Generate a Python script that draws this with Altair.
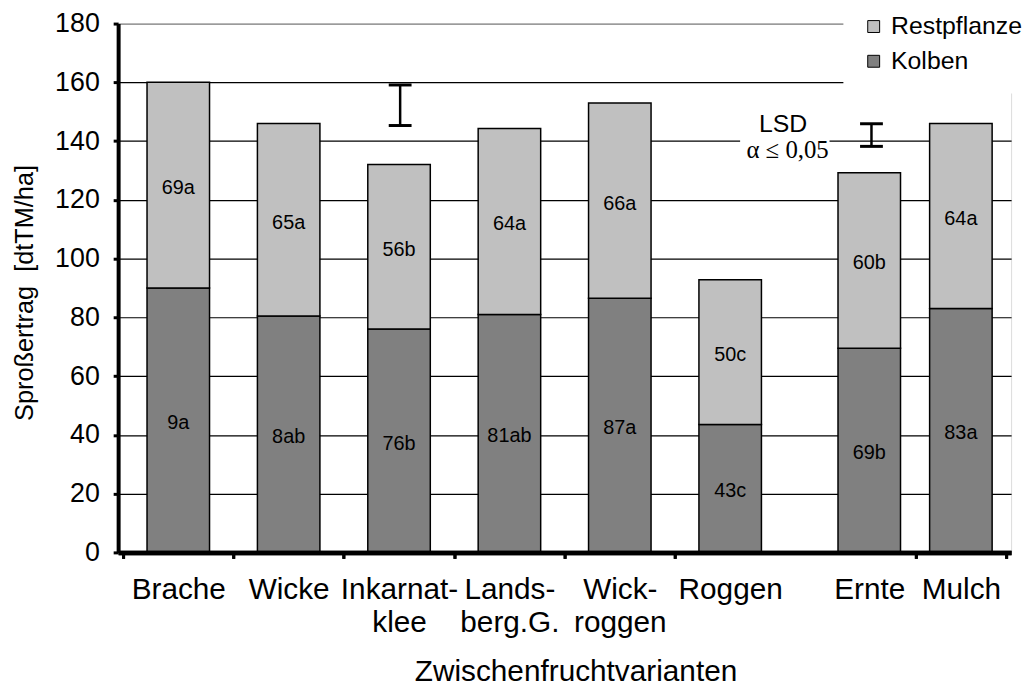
import json
import altair as alt
import pandas as pd

# ---------------- data ----------------
categories = ["Brache", "Wicke", "Inkarnat-\nklee", "Lands-\nberg.G.", "Wick-\nroggen",
              "Roggen", "Ernte", "Mulch"]
slot = [0.5, 1.5, 2.5, 3.5, 4.5, 5.5, 6.76, 7.59]          # category position on the x axis
kolben = [90.0, 80.5, 76.0, 81.0, 86.5, 43.5, 69.5, 83.0]
restpflanze = [70.0, 65.5, 56.0, 63.3, 66.5, 49.3, 59.7, 63.0]
kolben_labels = ["9a", "8ab", "76b", "81ab", "87a", "43c", "69b", "83a"]
rest_labels = ["69a", "65a", "56b", "64a", "66a", "50c", "60b", "64a"]
series = ["Restpflanze", "Kolben"]
series_colors = ["#C0C0C0", "#808080"]

axis_breaks = [0, 1, 2, 3, 4, 5, 7.18, 8]
y_ticks = [0, 20, 40, 60, 80, 100, 120, 140, 160, 180]

lsd_x = [2.51, 6.78]
lsd_low = [145.3, 138.2]
lsd_high = [159.1, 145.9]
lsd_text = ["LSD", "α ≤ 0,05"]
lsd_text_x = [5.98, 6.02]
lsd_text_y = [143.0, 134.3]

# white patch behind the LSD text (breaks the 140 gridline)
patch_x = [5.59]
patch_x2 = [6.40]
patch_y = [139.3]
patch_y2 = [140.7]

# ---------------- tables ----------------
rows = []
for i, c in enumerate(categories):
    rows.append({"cat": c, "slot": slot[i], "series": "Kolben", "value": kolben[i],
                 "ord": 0, "mid": kolben[i] / 2, "label": kolben_labels[i]})
    rows.append({"cat": c, "slot": slot[i], "series": "Restpflanze", "value": restpflanze[i],
                 "ord": 1, "mid": kolben[i] + restpflanze[i] / 2, "label": rest_labels[i]})
df = pd.DataFrame(rows)
df_lsd = pd.DataFrame({"x": lsd_x, "lo": lsd_low, "hi": lsd_high})
df_lsd_txt = pd.DataFrame({"x": lsd_text_x, "y": lsd_text_y, "t": lsd_text})
df_patch = pd.DataFrame({"x": patch_x, "x2": patch_x2, "y": patch_y, "y2": patch_y2})

SANS = "Liberation Sans"
SERIF = "Liberation Serif"

xscale = alt.Scale(domain=[0, 8], nice=False, zero=False)
yscale = alt.Scale(domain=[0, 180], nice=False)

label_expr = "{}[indexof({}, datum.value)]".format(
    json.dumps([c.split("\n") for c in categories]), json.dumps(slot))

x_break_axis = alt.Axis(values=axis_breaks, labels=False, ticks=True, tickSize=6, tickWidth=3,
                        tickColor="black", domainColor="black", domainWidth=4.5, grid=False,
                        title=None, orient="bottom", zindex=1)
x_label_axis = alt.Axis(values=slot, labelExpr=label_expr, ticks=False, tickSize=0, domain=False,
                        grid=False, labelFont=SANS, labelFontSize=30, labelColor="black",
                        labelPadding=46, labelBaseline="alphabetic", labelLineHeight=34,
                        labelAlign="center", labelOverlap=False, labelFlush=False,
                        title="Zwischenfruchtvarianten", titleFont=SANS, titleFontSize=30,
                        titleFontWeight="normal", titleColor="black", titleX=461, titleY=129,
                        titleBaseline="alphabetic", titleAlign="center", orient="bottom")
y_axis = alt.Axis(values=y_ticks, grid=True, gridWidth=1.2,
                  gridColor={"condition": {"test": "datum.value >= 180", "value": "#808080"}, "value": "black"},
                  gridOpacity={"condition": {"test": "datum.value <= 0", "value": 0}, "value": 1},
                  domainColor="black", domainWidth=4, tickColor="black", tickWidth=3, tickSize=5,
                  labelFont=SANS, labelFontSize=27, labelColor="black", labelPadding=14,
                  title="Sproßertrag\u00a0 [dtTM/ha]", titleFont=SANS, titleFontSize=25.5,
                  titleFontWeight="normal", titleColor="black", titleAngle=270, titleX=-86,
                  titleY=271, titleBaseline="alphabetic", titleAlign="center", zindex=0)

patch = alt.Chart(df_patch).mark_rect(color="white", opacity=1, strokeWidth=0).encode(
    x=alt.X("x:Q", scale=xscale, axis=x_break_axis), x2="x2:Q",
    y=alt.Y("y:Q", scale=yscale, axis=y_axis), y2="y2:Q",
)

bars = alt.Chart(df).mark_bar(size=63, stroke="black", strokeWidth=1.5).encode(
    x=alt.X("slot:Q", scale=xscale, axis=x_break_axis),
    y=alt.Y("value:Q", stack="zero", scale=yscale, axis=y_axis),
    color=alt.Color("series:N", scale=alt.Scale(domain=series, range=series_colors),
                    legend=alt.Legend(title=None, orient="none", legendX=731, legendY=-27.5,
                                      padding=18, fillColor="white", strokeColor="white",
                                      symbolType="square", symbolSize=144,
                                      symbolStrokeColor="black", symbolStrokeWidth=1,
                                      labelFont=SANS, labelFontSize=25, labelColor="black",
                                      labelOffset=5, rowPadding=9, zindex=2)),
    order=alt.Order("ord:Q"),
)

bar_text = alt.Chart(df).mark_text(font=SANS, fontSize=20, color="black", dy=3).encode(
    x=alt.X("slot:Q", scale=xscale, axis=x_label_axis),
    y=alt.Y("mid:Q", scale=yscale, axis=y_axis),
    text="label:N",
)

stem = alt.Chart(df_lsd).mark_rule(color="black", strokeWidth=2.5).encode(
    x=alt.X("x:Q", scale=xscale, axis=None),
    y=alt.Y("lo:Q", scale=yscale, axis=y_axis), y2="hi:Q",
)
cap_lo = alt.Chart(df_lsd).mark_tick(orient="horizontal", size=23, thickness=3, color="black",
                                     opacity=1).encode(
    x=alt.X("x:Q", scale=xscale, axis=None),
    y=alt.Y("lo:Q", scale=yscale, axis=y_axis),
)
cap_hi = alt.Chart(df_lsd).mark_tick(orient="horizontal", size=23, thickness=3, color="black",
                                     opacity=1).encode(
    x=alt.X("x:Q", scale=xscale, axis=None),
    y=alt.Y("hi:Q", scale=yscale, axis=y_axis),
)
lsd_lbl = alt.Chart(df_lsd_txt.iloc[[0]]).mark_text(font=SANS, fontSize=25, color="black",
                                                    align="center", baseline="alphabetic").encode(
    x=alt.X("x:Q", scale=xscale, axis=None),
    y=alt.Y("y:Q", scale=yscale, axis=y_axis),
    text="t:N",
)
alpha_lbl = alt.Chart(df_lsd_txt.iloc[[1]]).mark_text(font=SERIF, fontSize=25, color="black",
                                                      align="center", baseline="alphabetic").encode(
    x=alt.X("x:Q", scale=xscale, axis=None),
    y=alt.Y("y:Q", scale=yscale, axis=y_axis),
    text="t:N",
)

chart = alt.layer(patch, bars, bar_text, stem, cap_lo, cap_hi, lsd_lbl, alpha_lbl).resolve_axis(
    x="independent"
).properties(
    width=900, height=533,
    autosize=alt.AutoSizeParams(type="none"),
    padding={"left": 111, "top": 13, "right": 12, "bottom": 137},
).configure_view(stroke="#808080", strokeWidth=1.5).configure(font=SANS)

chart.save("out.html", embed_options={"renderer": "svg", "actions": False})
